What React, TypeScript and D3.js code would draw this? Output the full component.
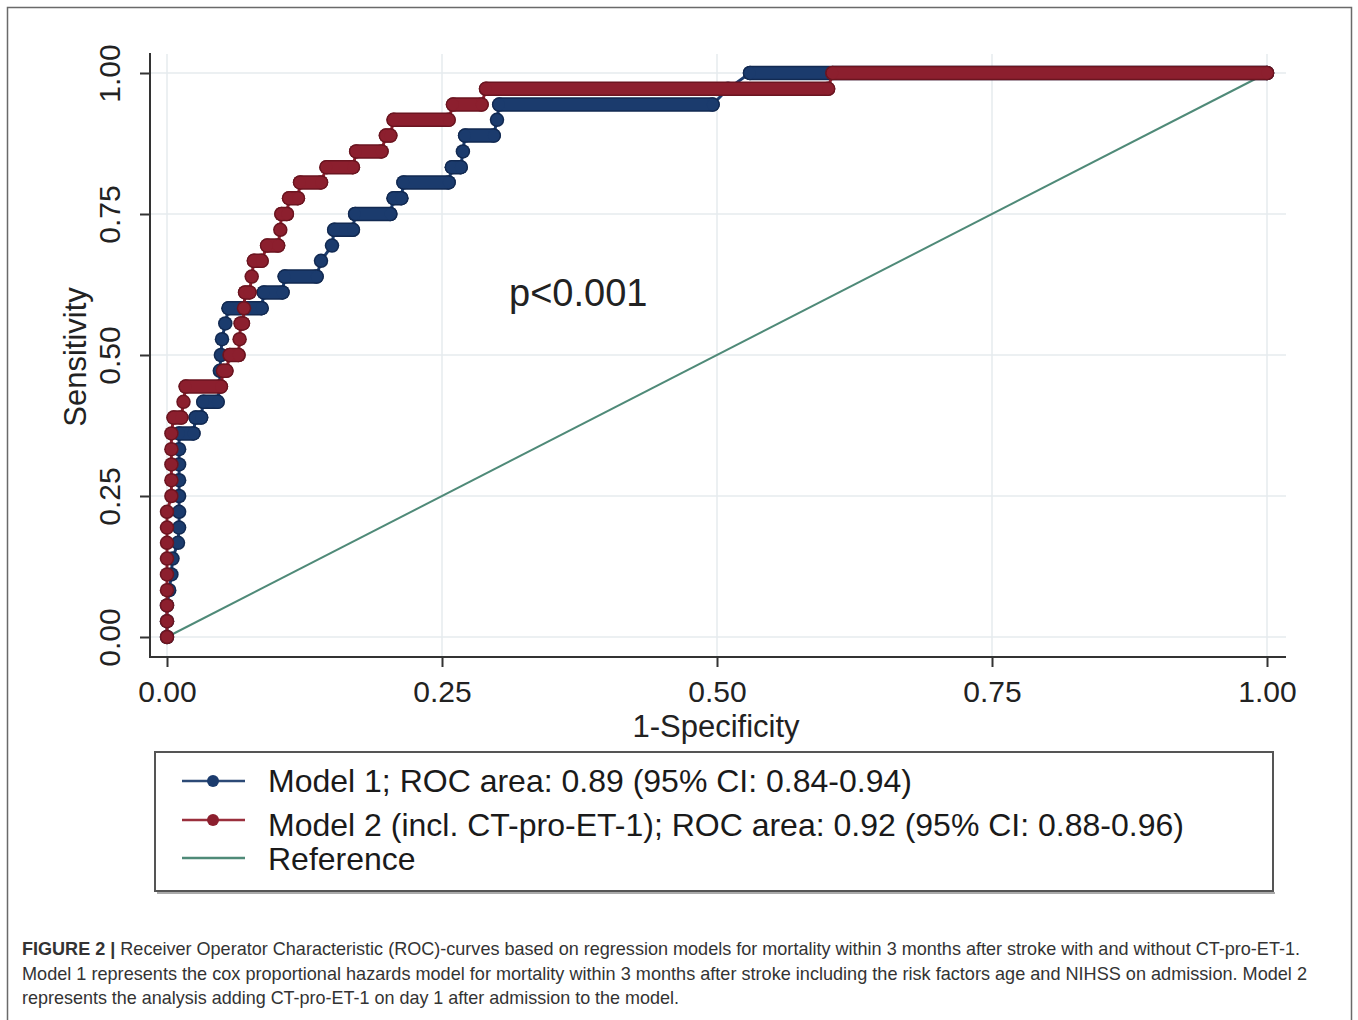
import React, { useRef, useEffect } from 'react'
import * as d3 from 'd3'

// ROC points (1-specificity, sensitivity)
const model1Fpr = [0, 0, 0, 0.002, 0.004, 0.005, 0.010, 0.011, 0.011, 0.011, 0.011, 0.011, 0.011, 0.011, 0.024, 0.026, 0.031, 0.033, 0.046, 0.048, 0.048, 0.049, 0.050, 0.053, 0.056, 0.086, 0.088, 0.105, 0.107, 0.136, 0.140, 0.150, 0.152, 0.169, 0.171, 0.203, 0.206, 0.213, 0.215, 0.256, 0.259, 0.267, 0.269, 0.271, 0.297, 0.300, 0.302, 0.496, 0.510, 0.530, 1.000]
const model1Tpr = [0, 0.028, 0.056, 0.083, 0.111, 0.139, 0.167, 0.194, 0.222, 0.25, 0.278, 0.306, 0.333, 0.361, 0.361, 0.389, 0.389, 0.417, 0.417, 0.444, 0.472, 0.5, 0.528, 0.556, 0.583, 0.583, 0.611, 0.611, 0.639, 0.639, 0.667, 0.694, 0.722, 0.722, 0.75, 0.75, 0.778, 0.778, 0.806, 0.806, 0.833, 0.833, 0.861, 0.889, 0.889, 0.917, 0.944, 0.944, 0.972, 1, 1]

const model2Fpr = [0, 0, 0, 0, 0, 0, 0, 0, 0, 0.004, 0.004, 0.004, 0.004, 0.004, 0.006, 0.013, 0.015, 0.017, 0.049, 0.051, 0.054, 0.057, 0.065, 0.066, 0.067, 0.069, 0.070, 0.071, 0.075, 0.077, 0.079, 0.086, 0.091, 0.101, 0.103, 0.104, 0.109, 0.111, 0.119, 0.121, 0.140, 0.145, 0.169, 0.172, 0.195, 0.199, 0.203, 0.206, 0.256, 0.260, 0.286, 0.290, 0.601, 0.605, 1.000]
const model2Tpr = [0, 0.028, 0.056, 0.083, 0.111, 0.139, 0.167, 0.194, 0.222, 0.25, 0.278, 0.306, 0.333, 0.361, 0.389, 0.389, 0.417, 0.444, 0.444, 0.472, 0.472, 0.5, 0.5, 0.528, 0.556, 0.556, 0.583, 0.611, 0.611, 0.639, 0.667, 0.667, 0.694, 0.694, 0.722, 0.75, 0.75, 0.778, 0.778, 0.806, 0.806, 0.833, 0.833, 0.861, 0.861, 0.889, 0.889, 0.917, 0.917, 0.944, 0.944, 0.972, 0.972, 1, 1]

const referenceLine = [0, 1]
const axisTicks = [0, 0.25, 0.5, 0.75, 1]

const legendLabels = [
  'Model 1; ROC area: 0.89 (95% CI: 0.84-0.94)',
  'Model 2 (incl. CT-pro-ET-1); ROC area: 0.92 (95% CI: 0.88-0.96)',
  'Reference'
]

const captionLines = [
  'Receiver Operator Characteristic (ROC)-curves based on regression models for mortality within 3 months after stroke with and without CT-pro-ET-1.',
  'Model 1 represents the cox proportional hazards model for mortality within 3 months after stroke including the risk factors age and NIHSS on admission. Model 2',
  'represents the analysis adding CT-pro-ET-1 on day 1 after admission to the model.'
]

const BLUE = '#1b3b6d'
const BLUE_DARK = '#122a52'
const RED = '#8c1f2e'
const RED_DARK = '#6b1520'
const GREEN = '#4f8a78'
const FONT = '"Liberation Sans", Arial, Helvetica, sans-serif'

export default function App() {
  const ref = useRef(null)

  useEffect(() => {
    const svg = d3.select(ref.current)
    svg.selectAll('*').remove()

    const x = d3.scaleLinear().domain([0, 1]).range([167, 1267])
    const y = d3.scaleLinear().domain([0, 1]).range([637, 73])

    // outer frame
    svg
      .append('path')
      .attr('d', 'M7.5,1030 V7.5 H1351.5 V1030')
      .attr('fill', 'none')
      .attr('stroke', '#6a6a6a')
      .attr('stroke-width', 1.5)

    // grid
    const grid = svg.append('g')
    grid
      .selectAll('line.h')
      .data(axisTicks)
      .enter()
      .append('line')
      .attr('x1', 151)
      .attr('x2', 1286)
      .attr('y1', d => y(d))
      .attr('y2', d => y(d))
      .attr('stroke', '#e6ebee')
      .attr('stroke-width', 1.5)
    grid
      .selectAll('line.v')
      .data(axisTicks)
      .enter()
      .append('line')
      .attr('y1', 54)
      .attr('y2', 656)
      .attr('x1', d => x(d))
      .attr('x2', d => x(d))
      .attr('stroke', '#e6ebee')
      .attr('stroke-width', 1.5)

    // axes
    const yAxis = svg
      .append('g')
      .attr('transform', 'translate(150,0)')
      .call(
        d3
          .axisLeft(y)
          .tickValues(axisTicks)
          .tickSize(10)
          .tickSizeOuter(0)
          .tickFormat(d3.format('.2f'))
      )
    yAxis.select('.domain').remove()
    yAxis.selectAll('line').attr('stroke', '#333').attr('stroke-width', 2)
    yAxis
      .selectAll('text')
      .attr('transform', 'rotate(-90)')
      .attr('x', 0)
      .attr('y', -30)
      .attr('dy', 0)
      .attr('text-anchor', 'middle')
      .style('font-family', FONT)
      .style('font-size', '30px')
      .attr('fill', '#222')

    const xAxis = svg
      .append('g')
      .attr('transform', 'translate(0,657)')
      .call(
        d3
          .axisBottom(x)
          .tickValues(axisTicks)
          .tickSize(10)
          .tickSizeOuter(0)
          .tickFormat(d3.format('.2f'))
      )
    xAxis.select('.domain').remove()
    xAxis.selectAll('line').attr('stroke', '#333').attr('stroke-width', 2)
    xAxis
      .selectAll('text')
      .attr('y', 45)
      .attr('dy', 0)
      .style('font-family', FONT)
      .style('font-size', '30px')
      .attr('fill', '#222')

    svg
      .append('line')
      .attr('x1', 150)
      .attr('x2', 150)
      .attr('y1', 53)
      .attr('y2', 658)
      .attr('stroke', '#333')
      .attr('stroke-width', 2)
    svg
      .append('line')
      .attr('x1', 149)
      .attr('x2', 1286)
      .attr('y1', 657)
      .attr('y2', 657)
      .attr('stroke', '#333')
      .attr('stroke-width', 2)

    // axis titles
    svg
      .append('text')
      .attr('x', 716)
      .attr('y', 737)
      .attr('text-anchor', 'middle')
      .style('font-family', FONT)
      .style('font-size', '31px')
      .attr('fill', '#222')
      .text('1-Specificity')
    svg
      .append('text')
      .attr('transform', 'translate(86,357) rotate(-90)')
      .attr('text-anchor', 'middle')
      .style('font-family', FONT)
      .style('font-size', '31px')
      .attr('fill', '#222')
      .text('Sensitivity')

    // reference diagonal
    svg
      .append('line')
      .attr('x1', x(referenceLine[0]))
      .attr('y1', y(referenceLine[0]))
      .attr('x2', x(referenceLine[1]))
      .attr('y2', y(referenceLine[1]))
      .attr('stroke', GREEN)
      .attr('stroke-width', 2)

    const drawSeries = (fpr, tpr, color, dark) => {
      const pts = fpr.map((f, i) => [f, tpr[i]])
      const g = svg.append('g')
      const line = d3
        .line()
        .x(d => x(d[0]))
        .y(d => y(d[1]))
      g.append('path')
        .attr('d', line(pts))
        .attr('fill', 'none')
        .attr('stroke', color)
        .attr('stroke-width', 3)
      // runs of markers at the same sensitivity merge into bars
      const runs = d3.pairs(pts).filter(([a, b]) => a[1] === b[1] && b[0] > a[0])
      const layer = (stroke, w, r) => {
        g.selectAll(null)
          .data(runs)
          .enter()
          .append('line')
          .attr('x1', d => x(d[0][0]))
          .attr('x2', d => x(d[1][0]))
          .attr('y1', d => y(d[0][1]))
          .attr('y2', d => y(d[1][1]))
          .attr('stroke', stroke)
          .attr('stroke-width', w)
          .attr('stroke-linecap', 'round')
        g.selectAll(null)
          .data(pts)
          .enter()
          .append('circle')
          .attr('cx', d => x(d[0]))
          .attr('cy', d => y(d[1]))
          .attr('r', r)
          .attr('fill', stroke)
      }
      layer(dark, 14.5, 7.25)
      layer(color, 11.5, 5.75)
    }
    drawSeries(model1Fpr, model1Tpr, BLUE, BLUE_DARK)
    drawSeries(model2Fpr, model2Tpr, RED, RED_DARK)

    svg
      .append('text')
      .attr('x', 509)
      .attr('y', 306)
      .style('font-family', FONT)
      .style('font-size', '38px')
      .attr('fill', '#222')
      .text('p<0.001')

    // legend
    const lg = svg.append('g')
    lg.append('line')
      .attr('x1', 157)
      .attr('x2', 1275)
      .attr('y1', 893)
      .attr('y2', 893)
      .attr('stroke', '#aaa')
      .attr('stroke-width', 2)
    lg.append('rect')
      .attr('x', 155)
      .attr('y', 752)
      .attr('width', 1118)
      .attr('height', 139)
      .attr('fill', 'white')
      .attr('stroke', '#555')
      .attr('stroke-width', 2)
    const legendRows = [
      { y: 781, color: '#2c4a76', dot: BLUE, base: 792 },
      { y: 820, color: '#9a2f3c', dot: RED, base: 836 },
      { y: 858, color: GREEN, dot: null, base: 870 }
    ]
    legendRows.forEach((row, i) => {
      lg.append('line')
        .attr('x1', 182)
        .attr('x2', 245)
        .attr('y1', row.y)
        .attr('y2', row.y)
        .attr('stroke', row.color)
        .attr('stroke-width', 2.5)
      if (row.dot) {
        lg.append('circle')
          .attr('cx', 213)
          .attr('cy', row.y)
          .attr('r', 6)
          .attr('fill', row.dot)
      }
      lg.append('text')
        .attr('x', 268)
        .attr('y', row.base)
        .style('font-family', FONT)
        .style('font-size', '32px')
        .attr('fill', '#1a1a1a')
        .text(legendLabels[i])
    })

    // caption
    const capWidths = [1278, 1285, 657]
    captionLines.forEach((txt, i) => {
      const t = svg
        .append('text')
        .attr('x', 22)
        .attr('y', 955 + i * 24.5)
        .attr('textLength', capWidths[i])
        .attr('lengthAdjust', 'spacingAndGlyphs')
        .style('font-family', '"Liberation Sans Narrow", "Liberation Sans", Arial, sans-serif')
        .style('font-size', '18.5px')
        .attr('fill', '#333')
      if (i === 0) {
        t.append('tspan').style('font-weight', 'bold').text('FIGURE 2 | ')
      }
      t.append('tspan').text(txt)
    })
  }, [])

  return (
    <svg
      ref={ref}
      width={1358}
      height={1020}
      style={{ position: 'absolute', left: 0, top: 0, background: 'white', display: 'block' }}
    />
  )
}
